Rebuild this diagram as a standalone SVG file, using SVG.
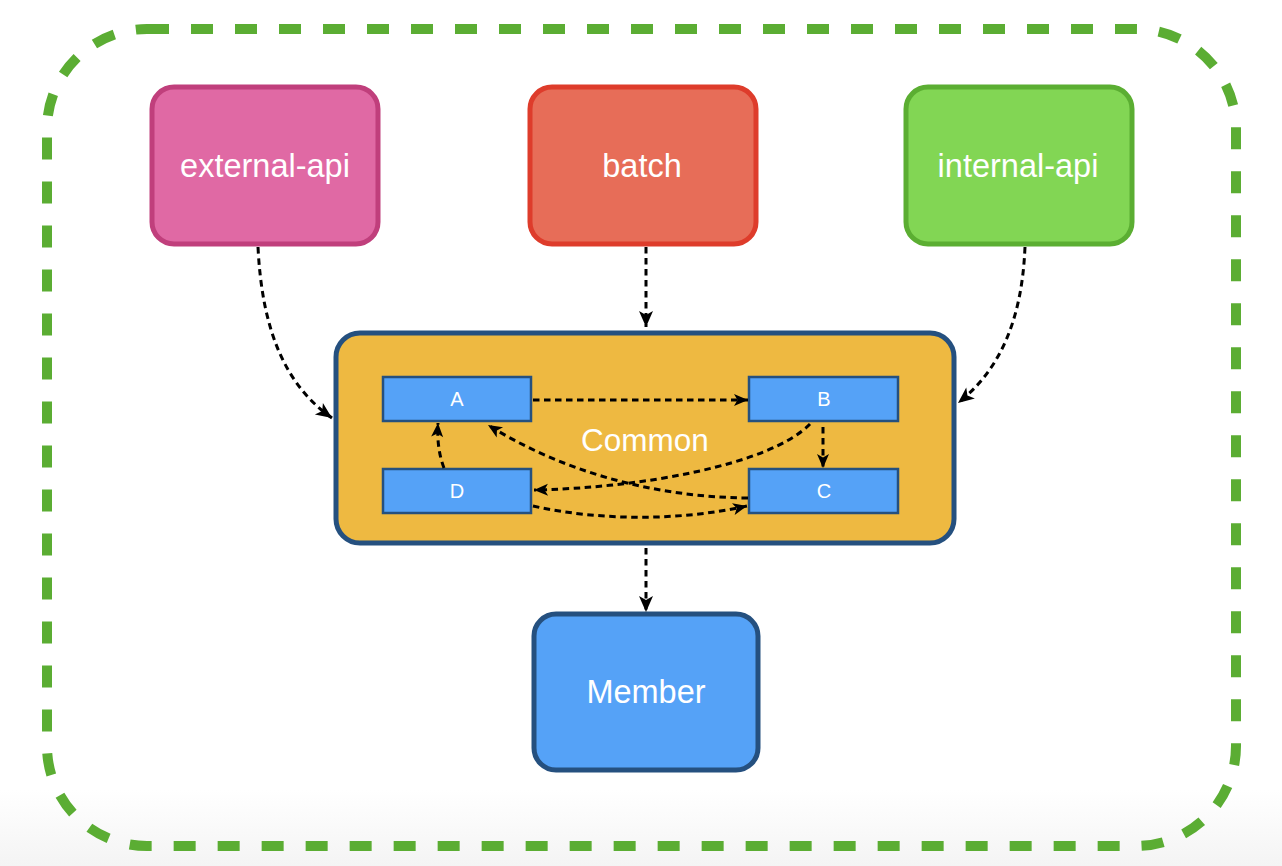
<svg xmlns="http://www.w3.org/2000/svg" width="1282" height="866" viewBox="0 0 1282 866">
  <defs>
    <linearGradient id="bg" x1="0" y1="0" x2="0" y2="1">
      <stop offset="0" stop-color="#ffffff"/>
      <stop offset="1" stop-color="#f4f4f4"/>
    </linearGradient>
    <marker id="arr" markerUnits="userSpaceOnUse" markerWidth="18" markerHeight="16" refX="16" refY="7" orient="auto" overflow="visible">
      <path d="M0,0 L16,7 L0,14 L4,7 Z" fill="#000"/>
    </marker>
    <marker id="arrs" markerUnits="userSpaceOnUse" markerWidth="16" markerHeight="14" refX="14" refY="6" orient="auto" overflow="visible">
      <path d="M0,0 L14,6 L0,12 L3.5,6 Z" fill="#000"/>
    </marker>
  </defs>
  <style>
    .lbl { font-family: "Liberation Sans", Arial, sans-serif; fill: #ffffff; text-anchor: middle; }
    .big { font-size: 32.5px; }
    .sm { font-size: 20px; }
    .box { stroke-width: 5; }
    .inner { fill: #55A2F7; stroke: #25507F; stroke-width: 2.5; }
    .con { fill: none; stroke: #000; stroke-width: 3; stroke-dasharray: 6.5 4.5; }
  </style>
  <rect x="0" y="0" width="1282" height="866" fill="#ffffff"/>
  <rect x="0" y="790" width="1282" height="76" fill="url(#bg)"/>

  <g id="boundary">
    <rect x="47" y="29" width="1189" height="817" rx="100" ry="100" fill="none" stroke="#5BAD33" stroke-width="10" stroke-dasharray="22 22"/>
  </g>

  <g id="external-api">
    <rect class="box" x="152" y="87" width="226" height="157" rx="22" fill="#E069A4" stroke="#C03F7C"/>
    <text class="lbl big" x="265" y="177">external-api</text>
  </g>
  <g id="batch">
    <rect class="box" x="530" y="87" width="226" height="157" rx="22" fill="#E76D58" stroke="#DE3C2B"/>
    <text class="lbl big" x="642" y="177">batch</text>
  </g>
  <g id="internal-api">
    <rect class="box" x="906" y="87" width="226" height="157" rx="22" fill="#82D654" stroke="#5BAE32"/>
    <text class="lbl big" x="1018" y="177">internal-api</text>
  </g>
  <g id="common">
    <rect class="box" x="336" y="333" width="618" height="210" rx="24" fill="#EEB941" stroke="#25507F"/>
    <text class="lbl" style="font-size:31.5px" x="645" y="451">Common</text>
  </g>
  <g id="member">
    <rect class="box" x="534" y="614" width="224" height="156" rx="22" fill="#55A2F7" stroke="#25507F"/>
    <text class="lbl big" x="646" y="703">Member</text>
  </g>
  <g id="node-a">
    <rect class="inner" x="383" y="377" width="148" height="44"/>
    <text class="lbl sm" x="457" y="406">A</text>
  </g>
  <g id="node-b">
    <rect class="inner" x="749" y="377" width="149" height="44"/>
    <text class="lbl sm" x="824" y="406">B</text>
  </g>
  <g id="node-d">
    <rect class="inner" x="383" y="469" width="148" height="44"/>
    <text class="lbl sm" x="457" y="498">D</text>
  </g>
  <g id="node-c">
    <rect class="inner" x="749" y="469" width="149" height="44"/>
    <text class="lbl sm" x="824" y="498">C</text>
  </g>

  <g id="connectors">
    <path class="con" d="M258,247 C262,330 285,385 332,418" marker-end="url(#arr)"/>
    <path class="con" d="M646,247 L646,327" marker-end="url(#arr)"/>
    <path class="con" d="M1025,247 C1022,320 1000,370 958,403" marker-end="url(#arr)"/>
    <path class="con" d="M646,548 L646,612" marker-end="url(#arr)"/>
    <path class="con" d="M533,400 L748,400" marker-end="url(#arrs)"/>
    <path class="con" d="M823,427 L823,468" marker-end="url(#arrs)"/>
    <path class="con" d="M810,424 C770,465 640,488 534,490" marker-end="url(#arrs)"/>
    <path class="con" d="M748,498 C650,497 560,470 488,425" marker-end="url(#arrs)"/>
    <path class="con" d="M444,468 C439,455 437,440 438,423" marker-end="url(#arrs)"/>
    <path class="con" d="M533,506 C600,521 680,521 747,506" marker-end="url(#arrs)"/>
  </g>
</svg>
